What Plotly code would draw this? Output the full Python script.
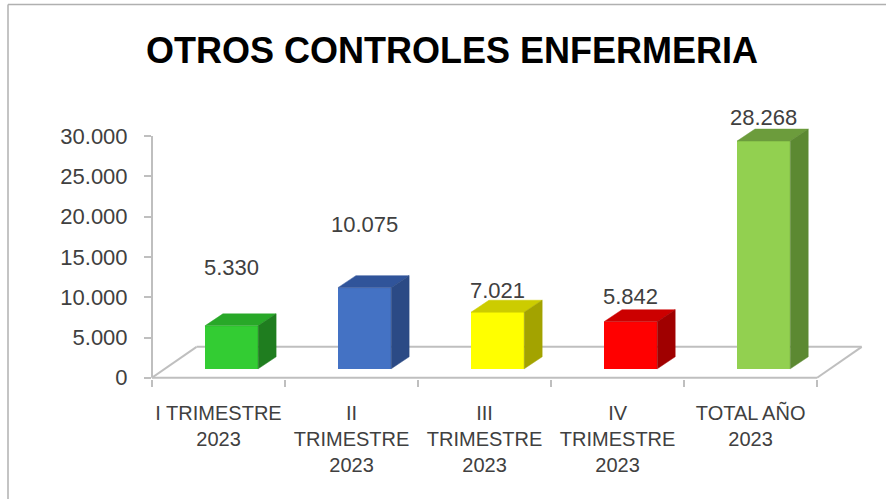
import plotly.graph_objects as go

# ---- data ----
categories = ["I TRIMESTRE<br>2023", "II<br>TRIMESTRE<br>2023", "III<br>TRIMESTRE<br>2023",
              "IV<br>TRIMESTRE<br>2023", "TOTAL AÑO<br>2023"]
values = [5330, 10075, 7021, 5842, 28268]
y_ticks = [0, 5000, 10000, 15000, 20000, 25000, 30000]
title_text = "OTROS CONTROLES ENFERMERIA"

# ---- style ----
front_colors = ["#33CC33", "#4472C4", "#FFFF00", "#FF0000", "#92D050"]
top_colors = ["#28A828", "#30549A", "#CCCC00", "#CC0000", "#6C9C3C"]
side_colors = ["#1F7D1F", "#2B4A85", "#A3A300", "#A00000", "#5C8932"]
label_shift = [46, 51, 10, 13, 12]  # px above bar top

GRAY = "#BFBFBF"
TXT = "#404040"
FONT = "Liberation Sans"

W, H = 886, 499
L, R, T, B = 152, 9, 120, 120
XR = [0, 5.45]
YR = [-150, 32000]

FRONT_DU, FRONT_DV = 0.098, 1117     # bar front offset into depth
BAR_W = 0.40
SIDE_DU, SIDE_DV = 0.135, 1490       # bar depth
FLOOR_DU, FLOOR_DV = 0.335, 3843     # floor depth

fig = go.Figure()

n = len(values)
centers = [i + 0.5 + FRONT_DU for i in range(n)]

# front faces as bars
fig.add_trace(go.Bar(
    x=centers, y=values, base=[FRONT_DV] * n, width=BAR_W,
    marker=dict(color=front_colors, line=dict(width=0)),
    hoverinfo="skip", showlegend=False,
))

# top and side faces
for i, v in enumerate(values):
    xl = centers[i] - BAR_W / 2
    xr = centers[i] + BAR_W / 2
    b = FRONT_DV
    t = FRONT_DV + v
    fig.add_trace(go.Scatter(
        x=[xl, xr, xr + SIDE_DU, xl + SIDE_DU, xl],
        y=[t, t, t + SIDE_DV, t + SIDE_DV, t],
        fill="toself", fillcolor=top_colors[i], mode="lines",
        line=dict(color=top_colors[i], width=0.5),
        hoverinfo="skip", showlegend=False,
    ))
    fig.add_trace(go.Scatter(
        x=[xr, xr + SIDE_DU, xr + SIDE_DU, xr, xr],
        y=[b, b + SIDE_DV, t + SIDE_DV, t, b],
        fill="toself", fillcolor=side_colors[i], mode="lines",
        line=dict(color=side_colors[i], width=0.5),
        hoverinfo="skip", showlegend=False,
    ))
    fig.add_annotation(
        x=centers[i], y=t + SIDE_DV, xref="x", yref="y",
        text=f"{v:,}".replace(",", "."), showarrow=False,
        yanchor="middle", yshift=label_shift[i],
        font=dict(family=FONT, size=22, color=TXT),
    )

# floor and axis lines
line = dict(color=GRAY, width=2)
shapes = [
    dict(type="line", xref="x", yref="y", x0=0, y0=0, x1=n, y1=0, line=line, layer="below"),
    dict(type="line", xref="x", yref="y", x0=FLOOR_DU, y0=FLOOR_DV, x1=n + FLOOR_DU, y1=FLOOR_DV, line=line, layer="below"),
    dict(type="line", xref="x", yref="y", x0=0, y0=0, x1=FLOOR_DU, y1=FLOOR_DV, line=line, layer="below"),
    dict(type="line", xref="x", yref="y", x0=n, y0=0, x1=n + FLOOR_DU, y1=FLOOR_DV, line=line, layer="below"),
    dict(type="line", xref="paper", yref="y", x0=0, y0=0, x1=0, y1=y_ticks[-1], line=line, layer="below"),
]
# outer frame
pw = W - L - R
ph = H - T - B
def px2x(px):
    return (px - L) / pw
def py2y(py):
    return (H - B - py) / ph
frame = dict(color="#B0B0B0", width=1.5)
shapes.append(dict(type="line", xref="paper", yref="paper", x0=px2x(8), y0=py2y(4.5),
                   x1=px2x(W), y1=py2y(4.5), line=frame))
shapes.append(dict(type="line", xref="paper", yref="paper", x0=px2x(8), y0=py2y(4.5),
                   x1=px2x(8), y1=py2y(H), line=frame))

fig.update_layout(
    width=W, height=H,
    margin=dict(l=L, r=R, t=T, b=B),
    paper_bgcolor="white", plot_bgcolor="white",
    separators=",.",
    shapes=shapes,
    title=dict(text=title_text, x=452 / W, y=1 - 50 / H, xanchor="center", yanchor="middle",
               font=dict(family=FONT, size=36, color="black", weight="bold")),
    xaxis=dict(
        range=XR, showgrid=False, zeroline=False, showline=False,
        tickmode="array", tickvals=[i + 0.5 for i in range(n)], ticktext=categories,
        ticks="", tickangle=0, ticklabelstandoff=20,
        tickfont=dict(family=FONT, size=20, color=TXT),
        minor=dict(tickmode="array", tickvals=list(range(n + 1)), ticks="outside",
                   ticklen=7, tickwidth=1.5, tickcolor=GRAY, showgrid=False),
        fixedrange=True,
    ),
    yaxis=dict(
        range=YR, showgrid=False, zeroline=False, showline=False,
        tickmode="array", tickvals=y_ticks, tickformat=",d",
        ticks="outside", ticklen=7, tickwidth=1.5, tickcolor=GRAY,
        ticklabelstandoff=12,
        tickfont=dict(family=FONT, size=22, color=TXT),
        fixedrange=True,
    ),
    bargap=0,
)

fig.write_html("out.html", config={"displayModeBar": False},
               post_script="document.body.style.margin='0';document.body.style.overflow='hidden';")
